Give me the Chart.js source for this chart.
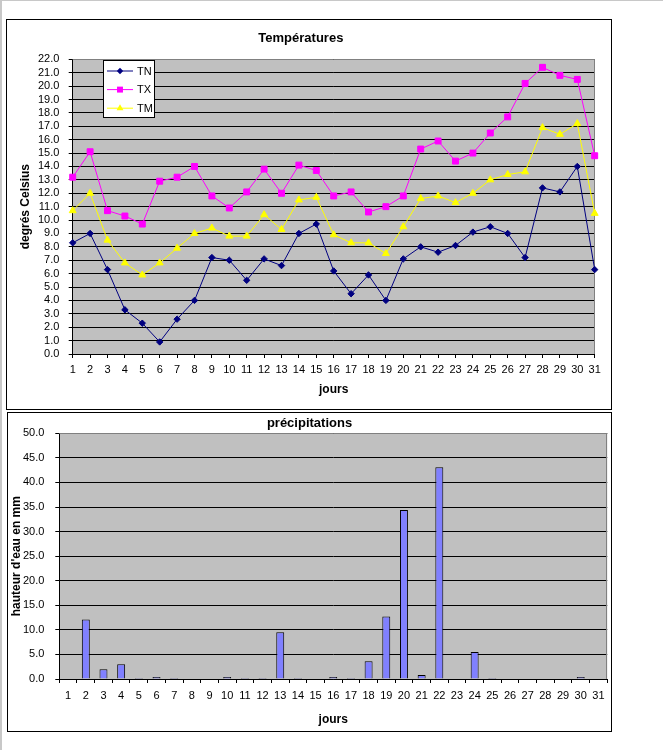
<!DOCTYPE html>
<html>
<head>
<meta charset="utf-8">
<script src="https://cdn.jsdelivr.net/npm/chart.js@4.4.1/dist/chart.umd.min.js"></script>
<style>
  html, body { margin: 0; padding: 0; background: #fff; }
  body { width: 663px; height: 750px; position: relative; overflow: hidden; }
  .edgeTop { position: absolute; left: 0; top: 0; width: 663px; height: 1px; background: #c8c8c8; }
  .edgeLeft { position: absolute; left: 0; top: 0; width: 2px; height: 750px; background: #c8c8c8; }
  .box { position: absolute; border: 1px solid #000; background: #fff; }
  #boxTemp { left: 6px; top: 19px; width: 604px; height: 389px; }
  #boxRain { left: 7px; top: 412px; width: 603px; height: 318px; }
  canvas { display: block; }
</style>
</head>
<body>
<div class="edgeTop"></div>
<div class="edgeLeft"></div>
<div class="box" id="boxTemp"><canvas id="tempChart" width="604" height="389"></canvas></div>
<div class="box" id="boxRain"><canvas id="rainChart" width="603" height="318"></canvas></div>
<script>
// days of the month
var days = ['1', '2', '3', '4', '5', '6', '7', '8', '9', '10', '11', '12', '13', '14', '15', '16',
  '17', '18', '19', '20', '21', '22', '23', '24', '25', '26', '27', '28', '29', '30', '31'];

// temperatures (degrés Celsius)
var tn = [8.3, 9.0, 6.3, 3.3, 2.3, 0.9, 2.6, 4.0, 7.2, 7.0, 5.5, 7.1, 6.6, 9.0, 9.7, 6.2,
  4.5, 5.9, 4.0, 7.1, 8.0, 7.6, 8.1, 9.1, 9.5, 9.0, 7.2, 12.4, 12.1, 14.0, 6.3];
var tx = [13.2, 15.1, 10.7, 10.3, 9.7, 12.9, 13.2, 14.0, 11.8, 10.9, 12.1, 13.8, 12.0, 14.1, 13.7, 11.8,
  12.1, 10.6, 11.0, 11.8, 15.3, 15.9, 14.4, 15.0, 16.5, 17.7, 20.2, 21.4, 20.8, 20.5, 14.8];
var tm = [10.7, 12.0, 8.5, 6.8, 5.9, 6.8, 7.9, 9.0, 9.4, 8.8, 8.8, 10.4, 9.3, 11.5, 11.7, 8.9,
  8.3, 8.3, 7.5, 9.5, 11.6, 11.8, 11.3, 12.0, 13.0, 13.4, 13.6, 16.9, 16.4, 17.2, 10.5];

// précipitations (mm)
var rain = [0, 12.1, 2.0, 3.0, 0.2, 0.4, 0.2, 0, 0, 0.4, 0.2, 0.2, 9.5, 0.2, 0, 0.4,
  0.2, 3.6, 12.7, 34.4, 0.8, 43.1, 0, 5.5, 0.2, 0, 0, 0, 0, 0.4, 0];

Chart.defaults.font.family = "'Liberation Sans', Arial, sans-serif";
Chart.defaults.font.size = 11;
Chart.defaults.color = '#000';
Chart.defaults.animation = false;

// grey plot area like the spreadsheet
var plotBg = {
  id: 'plotBg',
  beforeDraw: function (chart) {
    var a = chart.chartArea, c = chart.ctx;
    c.save();
    c.fillStyle = '#c0c0c0';
    c.fillRect(a.left, a.top, a.right - a.left, a.bottom - a.top);
    c.restore();
  },
  beforeDatasetsDraw: function (chart) {
    var a = chart.chartArea, c = chart.ctx;
    c.save();
    c.strokeStyle = '#808080';
    c.lineWidth = 1;
    c.beginPath();
    c.moveTo(a.left, Math.round(a.top) + 0.5);
    c.lineTo(a.right, Math.round(a.top) + 0.5);
    c.moveTo(Math.round(a.right) - 0.5, a.top);
    c.lineTo(Math.round(a.right) - 0.5, a.bottom);
    c.stroke();
    c.restore();
  }
};

function drawMarker(c, style, x, y, r) {
  c.beginPath();
  if (style === 'rectRot') {
    c.moveTo(x - r, y); c.lineTo(x, y - r); c.lineTo(x + r, y); c.lineTo(x, y + r);
  } else if (style === 'rect') {
    var s = r * Math.SQRT1_2;
    c.rect(x - s, y - s, 2 * s, 2 * s);
  } else {
    c.moveTo(x, y - r);
    c.lineTo(x + r * 0.866, y + r * 0.5);
    c.lineTo(x - r * 0.866, y + r * 0.5);
  }
  c.closePath();
  c.fill();
}

// legend box inside the plot area
var legendBox = {
  id: 'legendBox',
  afterDraw: function (chart) {
    var c = chart.ctx;
    c.save();
    c.fillStyle = '#fff';
    c.fillRect(96.5, 40.5, 51, 57);
    c.strokeStyle = '#000';
    c.lineWidth = 1;
    c.strokeRect(96.5, 40.5, 51, 57);
    chart.data.datasets.forEach(function (ds, i) {
      var y = 51 + i * 18.6;
      c.strokeStyle = ds.borderColor;
      c.fillStyle = ds.backgroundColor;
      c.beginPath();
      c.moveTo(100, y);
      c.lineTo(126, y);
      c.stroke();
      drawMarker(c, ds.pointStyle, 113, y, ds.pointRadius);
      c.fillStyle = '#000';
      c.font = "11px 'Liberation Sans', Arial, sans-serif";
      c.textBaseline = 'middle';
      c.fillText(ds.label, 130, y + 0.5);
    });
    c.restore();
  }
};

function fmt(v) { return Number(v).toFixed(1); }

new Chart(document.getElementById('tempChart'), {
  type: 'line',
  data: {
    labels: days,
    datasets: [
      { label: 'TN', data: tn, borderColor: '#000080', backgroundColor: '#000080', borderWidth: 1,
        pointStyle: 'rectRot', pointRadius: 3.2, pointBorderWidth: 1 },
      { label: 'TX', data: tx, borderColor: '#ff00ff', backgroundColor: '#ff00ff', borderWidth: 1,
        pointStyle: 'rect', pointRadius: 4.2, pointBorderWidth: 1 },
      { label: 'TM', data: tm, borderColor: '#ffff00', backgroundColor: '#ffff00', borderWidth: 1,
        pointStyle: 'triangle', pointRadius: 4, pointBorderWidth: 1 }
    ]
  },
  options: {
    responsive: false,
    layout: { padding: { left: 0, right: 16.3, top: 0, bottom: 0 } },
    plugins: {
      legend: { display: false },
      tooltip: { enabled: false },
      title: {
        display: true, text: 'Températures',
        font: { size: 13, weight: 'bold' },
        padding: { top: 10.5, bottom: 13.2 }
      }
    },
    scales: {
      x: {
        offset: false,
        grid: { drawOnChartArea: false, drawTicks: true, tickLength: 4, color: '#000', offset: false },
        border: { color: '#000' },
        ticks: { autoSkip: false, maxRotation: 0, padding: 5 },
        title: { display: true, text: 'jours', font: { size: 12, weight: 'bold' }, padding: { top: 0, bottom: 12.3 } },
        afterFit: function (s) { s.height = 55; }
      },
      y: {
        min: 0, max: 22,
        grid: { color: '#000', tickLength: 4 },
        border: { color: '#000' },
        ticks: { stepSize: 1, maxTicksLimit: 30, autoSkip: false, padding: 9.4, callback: fmt },
        title: { display: true, text: 'degrés Celsius', font: { size: 12, weight: 'bold' }, padding: { top: 11.3, bottom: 0 } },
        afterFit: function (s) { s.width = 65.7; }
      }
    }
  },
  plugins: [plotBg, legendBox]
});

new Chart(document.getElementById('rainChart'), {
  type: 'bar',
  data: {
    labels: days,
    datasets: [
      { label: 'précipitations', data: rain, backgroundColor: '#8080ff', borderColor: '#000',
        borderWidth: 1, barPercentage: 0.45, categoryPercentage: 1.0 }
    ]
  },
  options: {
    responsive: false,
    layout: { padding: { left: 0, right: 0, top: 0, bottom: 0 } },
    plugins: {
      legend: { display: false },
      tooltip: { enabled: false },
      title: {
        display: true, text: 'précipitations',
        font: { size: 13, weight: 'bold' },
        padding: { top: 2.2, bottom: 2.5 }
      }
    },
    scales: {
      x: {
        grid: { drawOnChartArea: false, drawTicks: true, tickLength: 4, color: '#000' },
        border: { color: '#000' },
        ticks: { autoSkip: false, maxRotation: 0, padding: 6.5 },
        title: { display: true, text: 'jours', font: { size: 12, weight: 'bold' }, padding: { top: 0, bottom: 3.8 } },
        afterFit: function (s) { s.height = 52; }
      },
      y: {
        min: 0, max: 50,
        grid: { color: '#000', tickLength: 4 },
        border: { color: '#000' },
        ticks: { stepSize: 5, maxTicksLimit: 30, autoSkip: false, padding: 11, callback: fmt },
        title: { display: true, text: "hauteur d'eau en mm", font: { size: 12, weight: 'bold' }, padding: { top: 1.1, bottom: 0 } },
        afterFit: function (s) { s.width = 51.3; }
      }
    }
  },
  plugins: [plotBg]
});
</script>
</body>
</html>
